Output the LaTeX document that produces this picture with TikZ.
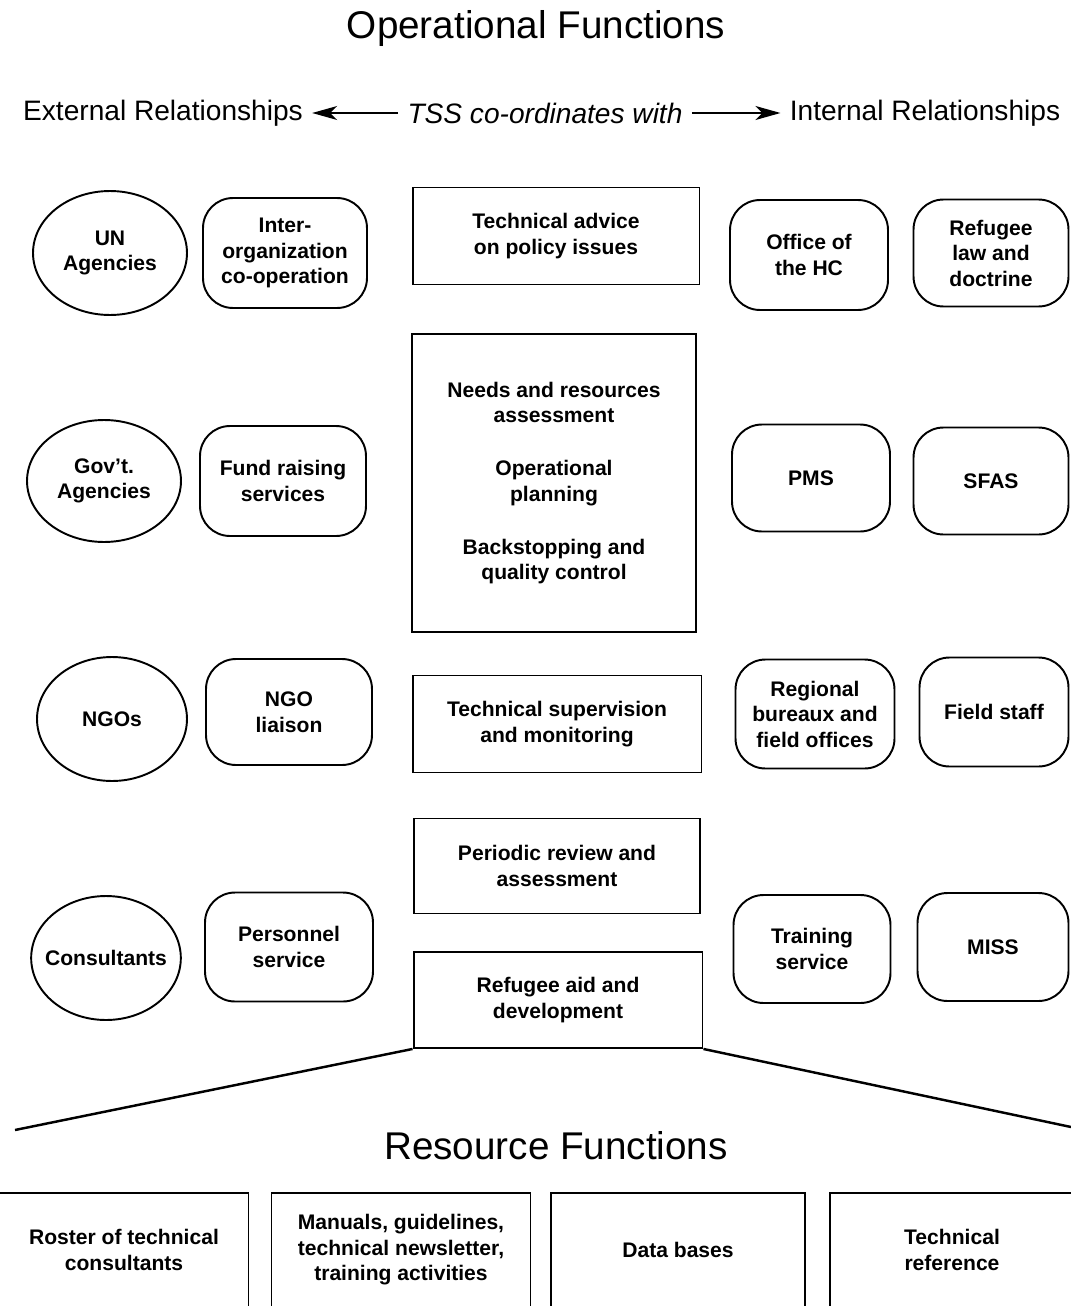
\documentclass[tikz,border=0pt]{standalone}
\usepackage{fontspec}
\setmainfont{Liberation Sans}
\usetikzlibrary{arrows.meta,shapes.geometric}
\tikzset{
    frame line/.style={line width=1.1pt},
    partner/.style={ellipse,draw,frame line,inner sep=0pt,align=center},
    unit/.style={draw,frame line,rounded corners=0.6cm,align=center,inner sep=2pt},
    task/.style={draw,frame line,align=center,inner sep=2pt},
    box text/.style={font=\fontsize{12}{14.5}\selectfont\bfseries},
    heading/.style={font=\fontsize{22}{26}\selectfont},
    subheading/.style={font=\fontsize{16}{19}\selectfont,inner sep=0.18cm},
    arr/.style={-{Stealth[length=0.5cm,width=0.28cm,inset=0.14cm]},line width=0.9pt},
    fan/.style={line width=1.4pt},
}
\tikzstyle{every node}=[box text]

\begin{document}
\begin{tikzpicture}[x=0.02cm,y=-0.02cm]
    \useasboundingbox (0,0) rectangle (1071,1308);
    \clip (0,0) rectangle (1071,1305);
    \node[heading] (opfun) at (536,29) {Operational Functions};
    \node[subheading] (extrel) at (163,113) {External Relationships};
    \node[subheading,font=\fontsize{16}{19}\selectfont\itshape] (tss) at (545,113) {TSS co-ordinates with};
    \node[subheading] (intrel) at (925,113) {Internal Relationships};
    \draw[arr] (tss.west) -- (extrel.east);
    \draw[arr] (tss.east) -- (intrel.west);

    % external partners
    \node[partner,minimum width=3.08cm,minimum height=2.48cm] (un) at (110,253) {UN\\Agencies};
    \node[partner,minimum width=3.08cm,minimum height=2.44cm] (gov) at (104,481) {Gov't.\\Agencies};
    \node[partner,minimum width=3.0cm,minimum height=2.48cm] (ngo) at (112,719) {NGOs};
    \node[partner,minimum width=2.96cm,minimum height=2.48cm,inner xsep=-0.16cm] (cons) at (106,958) {Consultants};

    \node[unit,minimum width=3.28cm,minimum height=2.2cm] (interorg) at (285,253) {Inter-\\organization\\co-operation};
    \node[unit,minimum width=3.32cm,minimum height=2.2cm] (fund) at (283,481) {Fund raising\\services};
    \node[unit,minimum width=3.32cm,minimum height=2.12cm] (liaison) at (289,712) {NGO\\liaison};
    \node[unit,minimum width=3.36cm,minimum height=2.18cm] (personnel) at (289,947) {Personnel\\service};

    % TSS tasks
    \node[task,minimum width=5.74cm,minimum height=1.94cm] (advice) at (556,236) {Technical advice\\on policy issues};
    \node[task,minimum width=5.68cm,minimum height=5.96cm] (needs) at (554,483) {Needs and resources\\assessment\\[0.55cm]Operational\\planning\\[0.55cm]Backstopping and\\quality control};
    \node[task,minimum width=5.78cm,minimum height=1.94cm] (superv) at (557,724) {Technical supervision\\and monitoring};
    \node[task,minimum width=5.72cm,minimum height=1.9cm] (review) at (557,866) {Periodic review and\\assessment};
    \node[task,minimum width=5.78cm,minimum height=1.92cm] (aid) at (558,1000) {Refugee aid and\\development};

    % internal partners
    \node[unit,minimum width=3.16cm,minimum height=2.2cm] (hc) at (809,255) {Office of\\the HC};
    \node[unit,minimum width=3.16cm,minimum height=2.14cm] (pms) at (811,478) {PMS};
    \node[unit,minimum width=3.18cm,minimum height=2.18cm] (bureaux) at (815,714) {Regional\\bureaux and\\field offices};
    \node[unit,minimum width=3.14cm,minimum height=2.16cm] (training) at (812,949) {Training\\service};

    \node[unit,minimum width=3.1cm,minimum height=2.14cm] (law) at (991,253) {Refugee\\law and\\doctrine};
    \node[unit,minimum width=3.1cm,minimum height=2.14cm] (sfas) at (991,481) {SFAS};
    \node[unit,minimum width=2.98cm,minimum height=2.18cm] (field) at (994,712) {Field staff};
    \node[unit,minimum width=3.02cm,minimum height=2.16cm] (miss) at (993,947) {MISS};

    \coordinate (fanl) at (15,1130);
    \coordinate (fanr) at (1071,1127);
    \draw[fan] (aid.south west) -- (fanl);
    \draw[fan] (aid.south east) -- (fanr);

    \node[heading] (resfun) at (556,1146) {Resource Functions};
    \node[task,minimum width=4.98cm,minimum height=2.28cm] (roster) at (124,1250) {Roster of technical\\consultants};
    \node[task,minimum width=5.18cm,minimum height=2.28cm] (manuals) at (401,1250) {Manuals, guidelines,\\technical newsletter,\\training activities};
    \node[task,minimum width=5.08cm,minimum height=2.28cm] (data) at (678,1250) {Data bases};
    \node[task,minimum width=4.9cm,minimum height=2.28cm] (techref) at (952,1250) {Technical\\reference};
\end{tikzpicture}
\end{document}
